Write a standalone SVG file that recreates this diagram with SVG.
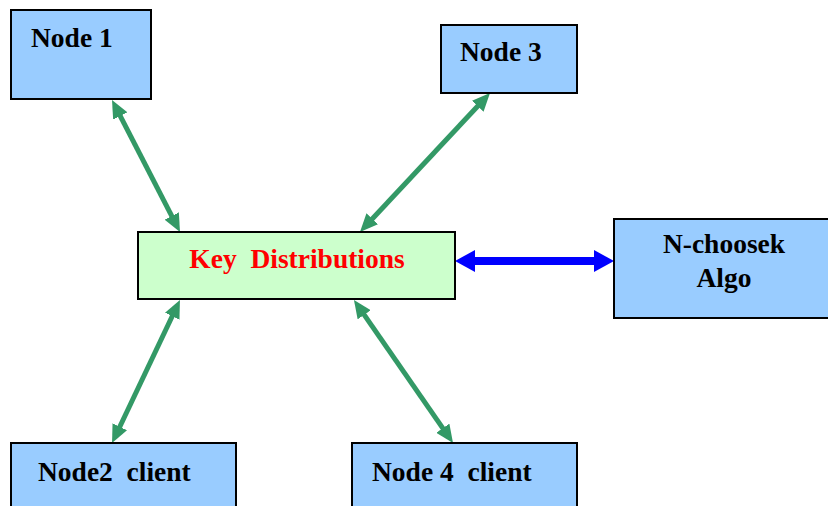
<svg xmlns="http://www.w3.org/2000/svg" width="828" height="506" viewBox="0 0 828 506">
<style>
.box{fill:#99ccff;stroke:#000;stroke-width:2}
.key{fill:#ccffcc;stroke:#000;stroke-width:2}
.t{font-family:"Liberation Serif","Times New Roman",serif;font-weight:bold;font-size:27.5px;fill:#000;white-space:pre}
.red{fill:#ff0000}
.g{stroke:#339966;stroke-width:5;fill:none;marker-start:url(#ga);marker-end:url(#ga)}
.b{stroke:#0000ff;stroke-width:8;fill:none;marker-start:url(#ba);marker-end:url(#ba)}
</style>
<defs>
<marker id="ga" markerUnits="userSpaceOnUse" markerWidth="18" markerHeight="16" refX="6" refY="8" orient="auto-start-reverse" viewBox="0 0 18 16">
<path d="M0,0 L18,8 L0,16 z" fill="#339966"/>
</marker>
<marker id="ba" markerUnits="userSpaceOnUse" markerWidth="20" markerHeight="22" refX="6" refY="11" orient="auto-start-reverse" viewBox="0 0 20 22">
<path d="M0,0 L20,11 L0,22 z" fill="#0000ff"/>
</marker>
</defs>
<g id="connectors">
<line class="g" x1="117.5" y1="110.7" x2="174.5" y2="221.3"/>
<line class="g" x1="481.8" y1="101.8" x2="368.2" y2="223.2"/>
<line class="g" x1="174.8" y1="310.8" x2="117.2" y2="432.2"/>
<line class="g" x1="360.8" y1="309.9" x2="446.2" y2="433.1"/>
<line class="b" x1="469" y1="261" x2="600" y2="261"/>
</g>
<g id="node1">
<rect class="box" x="11" y="10" width="140" height="89"/>
<text class="t" x="31" y="47">Node 1</text>
</g>
<g id="node3">
<rect class="box" x="441" y="25" width="136" height="68"/>
<text class="t" x="460" y="61">Node 3</text>
</g>
<g id="key">
<rect class="key" x="138" y="232" width="317" height="67"/>
<text class="t red" x="297" y="268" text-anchor="middle">Key  Distributions</text>
</g>
<g id="nchoosek">
<rect class="box" x="614" y="219" width="220" height="99"/>
<text class="t" x="724" y="253" text-anchor="middle">N-choosek</text>
<text class="t" x="724" y="287" text-anchor="middle">Algo</text>
</g>
<g id="node2">
<rect class="box" x="11" y="443" width="225" height="70"/>
<text class="t" x="38" y="481">Node2  client</text>
</g>
<g id="node4">
<rect class="box" x="352" y="443" width="225" height="70"/>
<text class="t" x="372" y="481">Node 4  client</text>
</g>
</svg>
